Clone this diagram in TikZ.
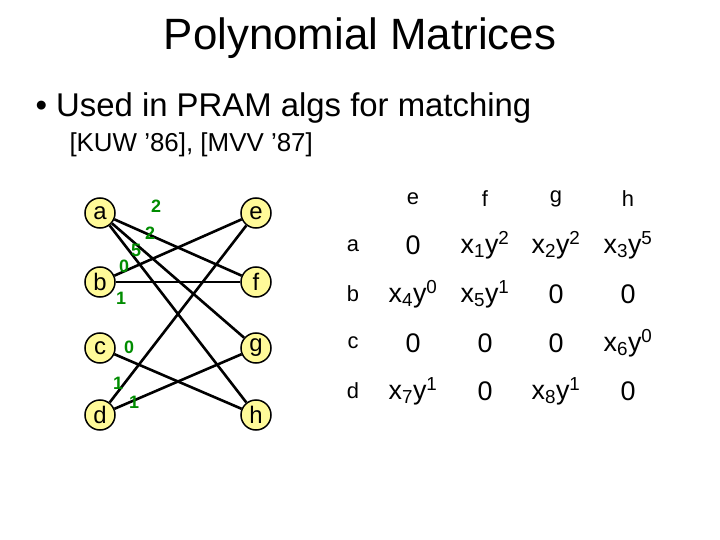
\documentclass[tikz,border=0pt]{standalone}
\usepackage{fontspec}
\setmainfont{Liberation Sans}
\newcommand{\xy}[2]{x\textsubscript{#1}y\textsuperscript{#2}}
\begin{document}
\begin{tikzpicture}[x=1bp,y=-1bp,
  vtx/.style={circle,draw=black,line width=1.5bp,fill=yellow!40,minimum size=30bp,inner sep=0pt,font=\fontsize{24}{26}\selectfont},
  edg/.style={line width=2.6bp},
  wt/.style={text=green!55!black,font=\bfseries\fontsize{18}{20}\selectfont},
  mx/.style={font=\fontsize{27}{30}\selectfont},
  lb/.style={font=\fontsize{22}{24}\selectfont}]
\useasboundingbox (0,0) rectangle (720,540);
\node (title) at (360,38) {\fontsize{44}{48}\selectfont Polynomial Matrices};
\node[anchor=west] (bul) at (32,108) {\fontsize{33}{36}\selectfont \textbullet\ Used in PRAM algs for matching};
\node[anchor=west] (ref) at (66,145) {\fontsize{26}{28}\selectfont [KUW ’86], [MVV ’87]};
\node[vtx] (a) at (100,213) {a};
\node[vtx] (b) at (100,282) {b};
\node[vtx] (c) at (100,348) {c};
\node[vtx] (d) at (100,415) {d};
\node[vtx] (e) at (256,213) {e};
\node[vtx] (f) at (256,282) {f};
\node[vtx] (g) at (256,348) {g};
\node[vtx] (h) at (256,415) {h};
\draw[edg] (a) -- (f);
\draw[edg] (a) -- (g);
\draw[edg] (a) -- (h);
\draw[edg] (b) -- (e);
\draw[edg] (b) -- (f);
\draw[edg] (c) -- (h);
\draw[edg] (d) -- (e);
\draw[edg] (d) -- (g);
\node[wt] (w1) at (156,206) {2};
\node[wt] (w2) at (150,233) {2};
\node[wt] (w3) at (136,250) {5};
\node[wt] (w4) at (124,266) {0};
\node[wt] (w5) at (121,298) {1};
\node[wt] (w6) at (129,347) {0};
\node[wt] (w7) at (118,383) {1};
\node[wt] (w8) at (134,402) {1};
\node[lb] (he) at (413,199) {e};
\node[lb] (hf) at (485,199) {f};
\node[lb] (hg) at (556,199) {g};
\node[lb] (hh) at (628,199) {h};
\node[lb] (ra) at (353,246) {a};
\node[lb] (rb) at (353,294) {b};
\node[lb] (rc) at (353,343) {c};
\node[lb] (rd) at (353,391) {d};
\node[mx] at (413,245) {0};
\node[mx] at (485,245) {\xy12};
\node[mx] at (556,245) {\xy22};
\node[mx] at (628,245) {\xy35};
\node[mx] at (413,294) {\xy40};
\node[mx] at (485,294) {\xy51};
\node[mx] at (556,294) {0};
\node[mx] at (628,294) {0};
\node[mx] at (413,343) {0};
\node[mx] at (485,343) {0};
\node[mx] at (556,343) {0};
\node[mx] at (628,343) {\xy60};
\node[mx] at (413,391) {\xy71};
\node[mx] at (485,391) {0};
\node[mx] at (556,391) {\xy81};
\node[mx] at (628,391) {0};
\end{tikzpicture}
\end{document}
